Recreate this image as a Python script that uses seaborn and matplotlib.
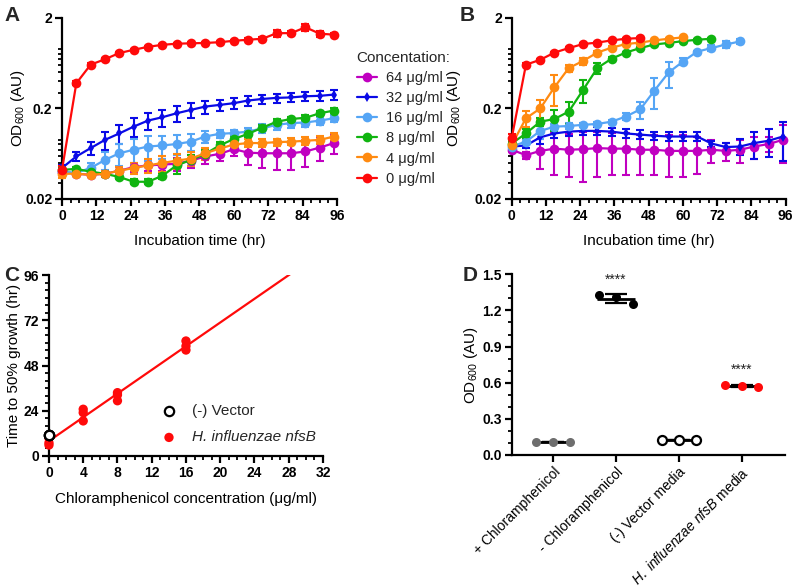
import numpy as np
import pandas as pd
import matplotlib
matplotlib.use('Agg')
import matplotlib.pyplot as plt
import seaborn as sns
from matplotlib.ticker import MultipleLocator, NullFormatter

# ---- data ----
conc_labels = ['64 μg/ml', '32 μg/ml', '16 μg/ml', '8 μg/ml', '4 μg/ml', '0 μg/ml']
conc_colors = ['#C000C0', '#0A0AE6', '#55A5F5', '#10B410', '#FF8A10', '#FF0A0A']
conc_markers = ['o', 'd', 'o', 'o', 'o', 'o']

t_full = list(range(0, 96, 5))

# panel A (mean, sd), order follows conc_labels
a_magenta = [0.040, 0.038, 0.037, 0.038, 0.041, 0.045, 0.047, 0.048, 0.049, 0.053, 0.059, 0.063, 0.071, 0.065, 0.064, 0.064, 0.064, 0.067, 0.074, 0.083]
a_magenta_sd = [0.002, 0.002, 0.002, 0.003, 0.004, 0.005, 0.006, 0.007, 0.008, 0.009, 0.010, 0.011, 0.012, 0.018, 0.020, 0.022, 0.022, 0.022, 0.022, 0.020]
a_blue = [0.044, 0.059, 0.073, 0.090, 0.106, 0.126, 0.147, 0.160, 0.177, 0.193, 0.210, 0.219, 0.229, 0.245, 0.255, 0.262, 0.265, 0.273, 0.276, 0.285]
a_blue_sd = [0.003, 0.007, 0.012, 0.020, 0.025, 0.030, 0.032, 0.034, 0.035, 0.035, 0.034, 0.032, 0.030, 0.030, 0.028, 0.030, 0.030, 0.032, 0.034, 0.036]
a_lblue = [0.040, 0.039, 0.044, 0.054, 0.064, 0.070, 0.076, 0.078, 0.081, 0.086, 0.098, 0.105, 0.107, 0.111, 0.121, 0.132, 0.138, 0.140, 0.147, 0.156]
a_lblue_sd = [0.003, 0.003, 0.006, 0.012, 0.018, 0.022, 0.024, 0.022, 0.020, 0.018, 0.014, 0.010, 0.010, 0.012, 0.014, 0.015, 0.015, 0.015, 0.015, 0.014]
a_green = [0.042, 0.043, 0.040, 0.038, 0.035, 0.031, 0.031, 0.036, 0.047, 0.054, 0.063, 0.078, 0.092, 0.105, 0.123, 0.143, 0.153, 0.158, 0.177, 0.190]
a_green_sd = [0.002, 0.002, 0.002, 0.002, 0.002, 0.002, 0.002, 0.003, 0.009, 0.008, 0.007, 0.008, 0.008, 0.008, 0.008, 0.010, 0.010, 0.012, 0.012, 0.012]
a_orange = [0.038, 0.038, 0.037, 0.038, 0.041, 0.044, 0.047, 0.050, 0.053, 0.056, 0.064, 0.072, 0.080, 0.083, 0.083, 0.085, 0.086, 0.088, 0.090, 0.098]
a_orange_sd = [0.004, 0.002, 0.002, 0.003, 0.004, 0.006, 0.008, 0.010, 0.010, 0.010, 0.010, 0.009, 0.008, 0.008, 0.008, 0.008, 0.008, 0.009, 0.009, 0.010]
a_red = [0.042, 0.38, 0.61, 0.70, 0.82, 0.89, 0.96, 1.01, 1.04, 1.05, 1.06, 1.08, 1.12, 1.15, 1.18, 1.36, 1.36, 1.58, 1.34, 1.31]
a_red_sd = [0.004, 0.02, 0.03, 0.03, 0.03, 0.03, 0.03, 0.03, 0.03, 0.03, 0.03, 0.03, 0.03, 0.04, 0.05, 0.13, 0.06, 0.13, 0.10, 0.06]

# panel B
b_magenta = [0.070, 0.061, 0.068, 0.072, 0.070, 0.071, 0.073, 0.072, 0.072, 0.070, 0.070, 0.068, 0.068, 0.068, 0.070, 0.068, 0.070, 0.076, 0.081, 0.090]
b_magenta_sd = [0.004, 0.005, 0.025, 0.035, 0.035, 0.040, 0.038, 0.035, 0.035, 0.033, 0.033, 0.033, 0.033, 0.030, 0.020, 0.015, 0.020, 0.020, 0.015, 0.040]
b_blue = [0.076, 0.078, 0.096, 0.106, 0.111, 0.113, 0.113, 0.111, 0.106, 0.103, 0.100, 0.098, 0.098, 0.098, 0.082, 0.075, 0.076, 0.083, 0.088, 0.098]
b_blue_sd = [0.004, 0.004, 0.015, 0.012, 0.012, 0.012, 0.012, 0.012, 0.012, 0.012, 0.011, 0.011, 0.011, 0.011, 0.006, 0.008, 0.015, 0.028, 0.030, 0.045]
b_lblue = [0.076, 0.086, 0.113, 0.126, 0.128, 0.132, 0.135, 0.143, 0.163, 0.195, 0.315, 0.50, 0.66, 0.85, 0.93, 1.02, 1.10]
b_lblue_sd = [0.004, 0.006, 0.020, 0.010, 0.010, 0.006, 0.006, 0.008, 0.015, 0.040, 0.12, 0.16, 0.06, 0.02, 0.07, 0.08, 0.07]
b_green = [0.082, 0.106, 0.143, 0.153, 0.185, 0.32, 0.56, 0.71, 0.83, 0.93, 1.02, 1.06, 1.11, 1.15, 1.18]
b_green_sd = [0.005, 0.012, 0.015, 0.040, 0.050, 0.09, 0.08, 0.03, 0.02, 0.02, 0.02, 0.02, 0.02, 0.02, 0.02]
b_orange = [0.079, 0.156, 0.20, 0.344, 0.56, 0.67, 0.83, 0.94, 1.03, 1.07, 1.13, 1.18, 1.22]
b_orange_sd = [0.012, 0.03, 0.05, 0.13, 0.05, 0.06, 0.03, 0.03, 0.02, 0.02, 0.02, 0.02, 0.02]
b_red = [0.094, 0.61, 0.69, 0.83, 0.93, 1.03, 1.07, 1.13, 1.18, 1.20]
b_red_sd = [0.010, 0.02, 0.02, 0.02, 0.02, 0.02, 0.02, 0.02, 0.02, 0.02]

# panel C
c_conc = [0, 0, 0, 4, 4, 4, 8, 8, 8, 16, 16, 16]
c_time = [9.5, 7.0, 5.8, 24.8, 23.0, 18.6, 33.6, 32.4, 29.3, 61.0, 58.3, 56.2]
c_vec_conc = [0, 0, 0]
c_vec_time = [11.0, 11.0, 11.0]

# panel D
d_groups = ['+ Chloramphenicol', '- Chloramphenicol', '(-) Vector media',
            r'$\mathit{H.\ influenzae\ nfsB}$ media']
d_values = [[0.108, 0.107, 0.106],
            [1.328, 1.314, 1.253],
            [0.127, 0.126, 0.125],
            [0.582, 0.576, 0.562]]
d_colors = ['#6E6E6E', 'black', 'white', '#FF0A0A']
d_stars = ['', '****', '', '****']

# ---- style ----
sns.set_theme(style='ticks')
plt.rcParams['font.family'] = ['Liberation Sans', 'DejaVu Sans']
plt.rcParams.update({
    'mathtext.fontset': 'custom',
    'mathtext.rm': 'Liberation Sans',
    'mathtext.it': 'Liberation Sans:italic',
    'axes.linewidth': 1.6,
    'axes.edgecolor': 'black',
    'axes.labelsize': 11,
    'axes.labelcolor': 'black',
    'axes.labelpad': 2,
    'xtick.color': 'black', 'ytick.color': 'black',
    'xtick.labelsize': 10, 'ytick.labelsize': 10,
    'xtick.major.size': 5, 'ytick.major.size': 5,
    'xtick.major.pad': 2, 'ytick.major.pad': 2,
    'xtick.major.width': 1.6, 'ytick.major.width': 1.6,
    'xtick.minor.size': 3, 'ytick.minor.size': 3,
    'xtick.minor.width': 1.3, 'ytick.minor.width': 1.3,
})

fig = plt.figure(figsize=(8, 5.88), dpi=100)
axA = fig.add_axes([0.0775, 0.6616, 0.3437, 0.3078])
axB = fig.add_axes([0.6396, 0.6616, 0.3425, 0.3078])
axC = fig.add_axes([0.0612, 0.2245, 0.3425, 0.3078])
axD = fig.add_axes([0.6396, 0.2262, 0.3416, 0.3073])


def growth_panel(ax, means, sds, show_legend):
    rows = []
    for lab, m, e in zip(conc_labels, means, sds):
        for t, v, s in zip(t_full, m, e):
            rows.append((t, v, s, lab))
    df = pd.DataFrame(rows, columns=['time', 'od', 'sd', 'conc'])
    for lab, col in zip(conc_labels, conc_colors):
        sub = df[df['conc'] == lab]
        ax.errorbar(sub['time'], sub['od'], yerr=sub['sd'], fmt='none', ecolor=col,
                    elinewidth=1.5, capsize=3, capthick=1.5, clip_on=False, zorder=2)
    sns.lineplot(data=df, x='time', y='od', hue='conc', style='conc',
                 hue_order=conc_labels, style_order=conc_labels,
                 palette=conc_colors, markers=dict(zip(conc_labels, conc_markers)),
                 dashes=False, markersize=7, markeredgewidth=0, linewidth=1.6,
                 errorbar=None, legend='full' if show_legend else False,
                 clip_on=False, zorder=3, ax=ax)
    for ln in ax.lines:
        if ln.get_marker() == 'd':
            ln.set_markersize(5)
    ax.set_yscale('log')
    ax.set_ylim(0.02, 2)
    ax.set_xlim(0, 96)
    ax.set_yticks([0.02, 0.2, 2])
    ax.set_yticklabels(['0.02', '0.2', '2'], fontweight='bold')
    ax.yaxis.set_minor_formatter(NullFormatter())
    ax.set_xticks(range(0, 97, 12))
    ax.set_xticklabels([str(v) for v in range(0, 97, 12)], fontweight='bold')
    ax.xaxis.set_minor_locator(MultipleLocator(3))
    ax.set_xlabel('Incubation time (hr)', labelpad=8)
    ax.set_ylabel(r'OD$_{\mathregular{600}}$ (AU)')


growth_panel(axA,
             [a_magenta, a_blue, a_lblue, a_green, a_orange, a_red],
             [a_magenta_sd, a_blue_sd, a_lblue_sd, a_green_sd, a_orange_sd, a_red_sd], True)
growth_panel(axB,
             [b_magenta, b_blue, b_lblue, b_green, b_orange, b_red],
             [b_magenta_sd, b_blue_sd, b_lblue_sd, b_green_sd, b_orange_sd, b_red_sd], False)
axA.yaxis.set_label_coords(-0.127, 0.5)
axB.yaxis.set_label_coords(-0.177, 0.5)

sns.move_legend(axA, 'upper left', bbox_to_anchor=(1.05, 0.85), frameon=False,
                title='Concentation:', fontsize=10.5, title_fontsize=11,
                handlelength=1.4, handletextpad=0.6, labelspacing=0.42,
                borderaxespad=0, alignment='left')
for h in axA.get_legend().legend_handles:
    if h.get_marker() == 'd':
        h.set_markersize(5)

# panel C
axC.set_xlim(0, 32)
axC.set_ylim(0, 96)
sns.regplot(x=c_conc, y=c_time, ci=None, scatter=False, truncate=False,
            color='#FF0A0A', line_kws={'linewidth': 1.6}, ax=axC)
sns.scatterplot(x=c_conc, y=c_time, color='#FF0A0A', s=45, edgecolor='none',
                clip_on=False, zorder=3, label='H. influenzae nfsB', ax=axC)
sns.scatterplot(x=c_vec_conc, y=c_vec_time, color='white', edgecolor='black',
                linewidth=1.6, s=45, clip_on=False, zorder=4, label='(-) Vector', ax=axC)
axC.set_xlim(0, 32)
axC.set_ylim(0, 96)
axC.set_xticks(range(0, 33, 4))
axC.set_xticklabels([str(v) for v in range(0, 33, 4)], fontweight='bold')
axC.xaxis.set_minor_locator(MultipleLocator(1))
axC.set_yticks(range(0, 97, 24))
axC.set_yticklabels([str(v) for v in range(0, 97, 24)], fontweight='bold')
axC.yaxis.set_minor_locator(MultipleLocator(4))
axC.set_xlabel('Chloramphenicol concentration (μg/ml)', labelpad=8.5)
axC.set_ylabel('Time to 50% growth (hr)')
h, l = axC.get_legend_handles_labels()
legC = axC.legend([h[1], h[0]], [l[1], l[0]], loc='center left',
                  bbox_to_anchor=(0.36, 0.175), frameon=False, fontsize=11,
                  handletextpad=0.5, labelspacing=0.8, borderaxespad=0)
legC.get_texts()[1].set_style('italic')

# panel D
rows = []
for g, vals in zip(d_groups, d_values):
    for i, v in enumerate(vals):
        rows.append((g, 'r%d' % i, v))
dfD = pd.DataFrame(rows, columns=['group', 'rep', 'od'])
for g, col in zip(d_groups, d_colors):
    sub = dfD[dfD['group'] == g]
    edge = 'black' if col == 'white' else col
    lw = 1.6 if col == 'white' else 0
    sns.stripplot(data=sub, x='group', y='od', hue='rep', order=d_groups,
                  dodge=True, jitter=False, palette=[col] * 3, size=6.5,
                  edgecolor=edge, linewidth=lw, legend=False, zorder=3, ax=axD)
stats = dfD.groupby('group', sort=False)['od'].agg(['mean', 'std'])
xs = np.arange(len(d_groups))
axD.hlines(stats['mean'], xs - 0.3, xs + 0.3, color='black', linewidth=2, zorder=2)
axD.errorbar(xs, stats['mean'], yerr=stats['std'], fmt='none', ecolor='black',
             elinewidth=1.6, capsize=8, capthick=1.6, zorder=2)
for x, g, s in zip(xs, d_groups, d_stars):
    if s:
        top = stats.loc[g, 'mean'] + stats.loc[g, 'std']
        axD.text(x, top + 0.12, s, ha='center', va='center', fontsize=10, color='#222222')
axD.set_xlim(-0.66, 3.69)
axD.set_ylim(0, 1.5)
axD.set_yticks(np.arange(0, 1.51, 0.3))
axD.set_yticklabels(['%.1f' % v for v in np.arange(0, 1.51, 0.3)], fontweight='bold')
axD.yaxis.set_minor_locator(MultipleLocator(0.1))
axD.set_xticks(xs)
axD.set_xticklabels(d_groups, rotation=45, ha='right', rotation_mode='anchor', fontsize=10)
axD.set_xlabel('')
axD.set_ylabel(r'OD$_{\mathregular{600}}$ (AU)')

for ax in (axA, axB, axC, axD):
    sns.despine(ax=ax)

for lab, x, y in [('A', 0.005, 0.99), ('B', 0.575, 0.99), ('C', 0.005, 0.547), ('D', 0.578, 0.547)]:
    fig.text(x, y, lab, fontsize=15, fontweight='bold', va='top', ha='left')

fig.savefig('out.png', dpi=100)
